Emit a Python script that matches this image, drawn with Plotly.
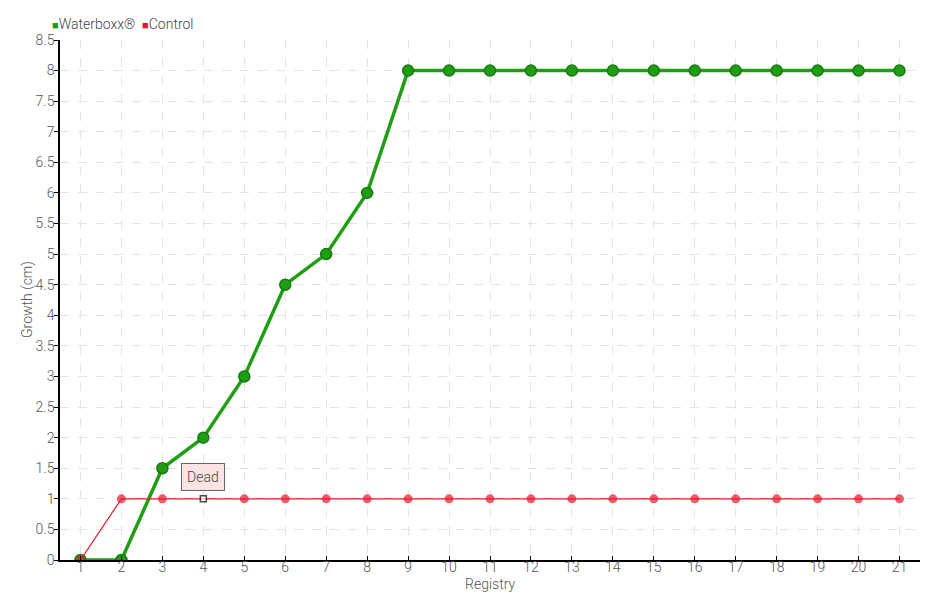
import plotly.graph_objects as go

registry = list(range(1, 22))
waterboxx = [0, 0, 1.5, 2, 3, 4.5, 5, 6, 8, 8, 8, 8, 8, 8, 8, 8, 8, 8, 8, 8, 8]
control = [0, 1, 1, 1, 1, 1, 1, 1, 1, 1, 1, 1, 1, 1, 1, 1, 1, 1, 1, 1, 1]
y_ticks = [i * 0.5 for i in range(18)]
y_tick_labels = ["%g" % v for v in y_ticks]

FONT = "Roboto, sans-serif"
GREEN = "#1f9e14"
RED = "#e8182c"

ctrl_colors = [RED] * len(control)
ctrl_colors[3] = "white"
ctrl_line_colors = [RED] * len(control)
ctrl_line_colors[3] = "black"
ctrl_symbols = ["circle"] * len(control)
ctrl_symbols[3] = "square"
ctrl_sizes = [9] * len(control)
ctrl_sizes[3] = 6

fig = go.Figure()
fig.add_trace(go.Scatter(
    x=registry, y=waterboxx, name="Waterboxx®", mode="lines+markers",
    line=dict(color=GREEN, width=3.5),
    marker=dict(size=11, color=GREEN, line=dict(color="#177a10", width=1.5)),
))
fig.add_trace(go.Scatter(
    x=registry, y=control, name="Control", mode="lines+markers",
    line=dict(color=RED, width=1.2),
    marker=dict(size=ctrl_sizes, color=ctrl_colors, symbol=ctrl_symbols,
                line=dict(color=ctrl_line_colors,
                          width=[0 if i != 3 else 1.5 for i in range(len(control))])),
))

fig.add_annotation(
    x=registry[3], y=control[3], text="Dead", showarrow=False,
    yshift=8, yanchor="bottom",
    bgcolor="#fbe3e3", bordercolor="#666", borderwidth=1, borderpad=5,
    font=dict(family=FONT, size=14, color="#444", weight=300),
)

# legend (custom, small squares like the original)
fig.add_annotation(
    xref="paper", yref="paper", x=-0.012, y=1.0, yshift=6,
    xanchor="left", yanchor="bottom", showarrow=False,
    text=("<span style='color:%s;font-size:11px'>■</span>Waterboxx®  "
          "<span style='color:%s;font-size:11px'>■</span>Control") % (GREEN, RED),
    font=dict(family=FONT, size=14, color="#444", weight=300),
)

# axis titles
fig.add_annotation(
    xref="paper", yref="paper", x=0, y=0.5, xshift=-33, textangle=-90,
    xanchor="center", yanchor="middle", showarrow=False,
    text="Growth (cm)", font=dict(family=FONT, size=14, color="#555", weight=300),
)
fig.add_annotation(
    xref="paper", yref="paper", x=0.5, y=0, yshift=-24,
    xanchor="center", yanchor="middle", showarrow=False,
    text="Registry", font=dict(family=FONT, size=14, color="#555", weight=300),
)

fig.update_layout(
    width=932, height=592,
    margin=dict(l=52, r=20, t=32, b=40),
    paper_bgcolor="white", plot_bgcolor="white",
    font=dict(family=FONT, size=14, color="#555", weight=300),
    showlegend=False,
    xaxis=dict(
        range=[0.5, 21.5], tickmode="array", tickvals=registry,
        ticktext=[str(r) for r in registry],
        showgrid=True, gridcolor="#e4e4e4", griddash="dash", gridwidth=1,
        showline=True, linecolor="black", linewidth=1.5,
        ticks="inside", ticklen=4, tickcolor="black",
        ticklabelstandoff=-7,
        zeroline=False, automargin=False,
    ),
    yaxis=dict(
        range=[0, 8.5], tickmode="array", tickvals=y_ticks, ticktext=y_tick_labels,
        showgrid=True, gridcolor="#e4e4e4", griddash="dash", gridwidth=1,
        showline=True, linecolor="black", linewidth=1.5,
        ticks="outside", ticklen=4, tickcolor="black",
        ticklabelstandoff=-3,
        zeroline=False, automargin=False,
    ),
)

fig.write_html("out.html")
